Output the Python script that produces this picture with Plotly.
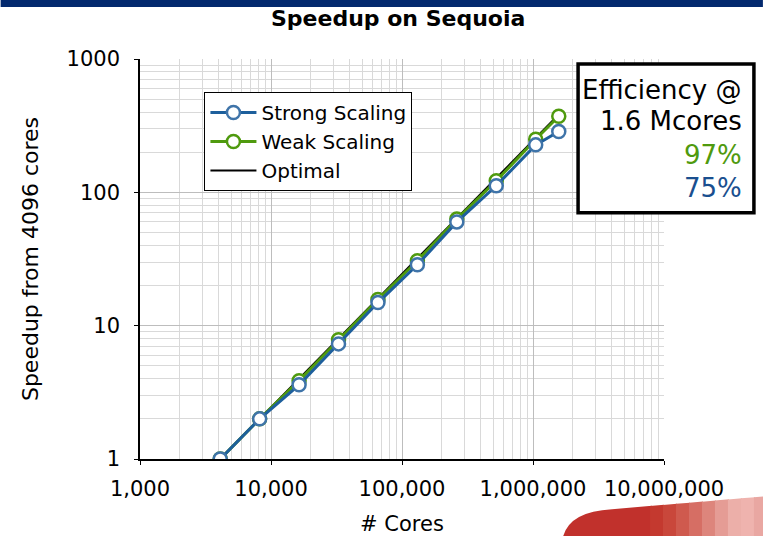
import plotly.graph_objects as go

cores = [4096, 8192, 16384, 32768, 65536, 131072, 262144, 524288, 1048576, 1572864]
strong = [1, 2, 3.6, 7.3, 14.9, 28.6, 60, 112, 227, 286]
weak = [1, 2, 3.87, 7.85, 15.7, 30.7, 63, 122, 250, 372]
optimal = [1, 2, 4, 8, 16, 32, 64, 128, 256, 384]

x_tickvals = [1000, 10000, 100000, 1000000, 10000000]
x_ticktext = ["1,000", "10,000", "100,000", "1,000,000", "10,000,000"]
y_tickvals = [1, 10, 100, 1000]
y_ticktext = ["1", "10", "100", "1000"]

FONT = "DejaVu Sans"
BLUE_LINE = "#1d5f9c"
BLUE_MK = "#3f74a9"
GREEN = "#4f9a0e"

W, H = 763, 536
L, R, T, B = 139.5, 664, 59, 459.5


def px(x):
    return (x - L) / (R - L)


def py(y):
    return (B - y) / (B - T)


minor_x = [m * 10 ** e for e in range(3, 7) for m in range(2, 10)]
minor_y = [m * 10 ** e for e in range(0, 3) for m in range(2, 10)]

fig = go.Figure()
fig.add_trace(go.Scatter(x=cores, y=optimal, mode="lines", name="Optimal",
                         line=dict(color="black", width=2), legendrank=3))
fig.add_trace(go.Scatter(x=cores, y=weak, mode="lines+markers", name="Weak Scaling",
                         line=dict(color=GREEN, width=3),
                         marker=dict(symbol="circle", size=13, color="white",
                                     line=dict(color=GREEN, width=2.5)),
                         legendrank=2))
fig.add_trace(go.Scatter(x=cores, y=strong, mode="lines+markers", name="Strong Scaling",
                         line=dict(color=BLUE_LINE, width=3),
                         marker=dict(symbol="circle", size=13, color="white",
                                     line=dict(color=BLUE_MK, width=2.5)),
                         legendrank=1))

fig.update_xaxes(type="log", range=[3, 7], tickmode="array", tickvals=x_tickvals,
                 ticktext=x_ticktext, showline=True, linecolor="black", linewidth=1.5,
                 ticks="outside", ticklen=4, tickcolor="black", ticklabelstandoff=6,
                 showgrid=True, gridcolor="#bdbdbd", gridwidth=1, zeroline=False,
                 minor=dict(tickmode="array", tickvals=minor_x, showgrid=True,
                            gridcolor="#d9d9d9", gridwidth=1, ticks=""),
                 tickfont=dict(family=FONT, size=21, color="black"),
                 title=dict(text="# Cores", font=dict(family=FONT, size=21, color="black"),
                            standoff=16))
fig.update_yaxes(type="log", range=[0, 3], tickmode="array", tickvals=y_tickvals,
                 ticktext=y_ticktext, showline=True, linecolor="black", linewidth=1.5,
                 ticks="outside", ticklen=4, tickcolor="black", ticklabelstandoff=10,
                 showgrid=True, gridcolor="#bdbdbd", gridwidth=1, zeroline=False,
                 minor=dict(tickmode="array", tickvals=minor_y, showgrid=True,
                            gridcolor="#d9d9d9", gridwidth=1, ticks=""),
                 tickfont=dict(family=FONT, size=21, color="black"),
                 title=dict(text="Speedup from 4096 cores",
                            font=dict(family=FONT, size=22, color="black"), standoff=22))

shapes = []
# top navy bar
shapes.append(dict(type="rect", xref="paper", yref="paper", x0=px(0), x1=px(W),
                   y0=py(0), y1=py(7), fillcolor="#03296e", line=dict(width=0),
                   layer="above"))
# efficiency box
shapes.append(dict(type="rect", xref="paper", yref="paper", x0=px(578), x1=px(754),
                   y0=py(64), y1=py(213), fillcolor="white",
                   line=dict(color="black", width=3.5), layer="above"))

# red swoosh (decorative), approximated gradient strips
def top_edge(x):
    return 510 + (497 - 510) * (x - 610) / (763 - 610)

shapes.append(dict(type="path", xref="paper", yref="paper",
                   path=(f"M {px(563)},{py(537)} Q {px(570)},{py(512)} {px(612)},{py(top_edge(612))} "
                         f"L {px(652)},{py(top_edge(652))} L {px(652)},{py(537)} Z"),
                   fillcolor="#c1312c", line=dict(width=0), layer="above"))
strip_cols = ["#c4392f", "#c9473b", "#cf5a4e", "#d66e64", "#dd857c", "#e59c95",
              "#ecafa9", "#efb3ae", "#e9a7a2"]
xs = [650 + i * 13 for i in range(len(strip_cols) + 1)]
for i, c in enumerate(strip_cols):
    xa, xb = xs[i], min(xs[i + 1] + 1, 764)
    shapes.append(dict(type="path", xref="paper", yref="paper",
                       path=(f"M {px(xa)},{py(top_edge(xa))} L {px(xb)},{py(top_edge(xb))} "
                             f"L {px(xb)},{py(537)} L {px(xa)},{py(537)} Z"),
                       fillcolor=c, line=dict(width=0), layer="above"))

annotations = [
    dict(text="<b>Speedup on Sequoia</b>", xref="paper", yref="paper",
         x=px(398), y=py(18), xanchor="center", yanchor="middle", showarrow=False,
         font=dict(family=FONT, size=22, color="black")),
]
eff = [("Efficiency @", 90, "black"), ("1.6 Mcores", 121, "black"),
       ("97%", 155, GREEN), ("75%", 188, "#1a4f8f")]
for t, yy, c in eff:
    annotations.append(dict(text=t, xref="paper", yref="paper", x=px(744), y=py(yy),
                            xanchor="right", yanchor="middle", showarrow=False,
                            font=dict(family=FONT, size=26, color=c)))

fig.update_layout(
    width=W, height=H,
    margin=dict(l=L, r=W - R, t=T, b=H - B, autoexpand=False),
    paper_bgcolor="white", plot_bgcolor="white",
    showlegend=True,
    legend=dict(x=px(204), y=py(92), xanchor="left", yanchor="top",
                bgcolor="white", bordercolor="black", borderwidth=1,
                font=dict(family=FONT, size=20, color="black"),
                traceorder="normal", itemwidth=46, tracegroupgap=0,
                entrywidth=245, entrywidthmode="pixels"),
    shapes=shapes, annotations=annotations,
    font=dict(family=FONT),
)

fig.write_html("out.html", config={"displayModeBar": False},
               post_script="document.body.style.margin='0px';")
